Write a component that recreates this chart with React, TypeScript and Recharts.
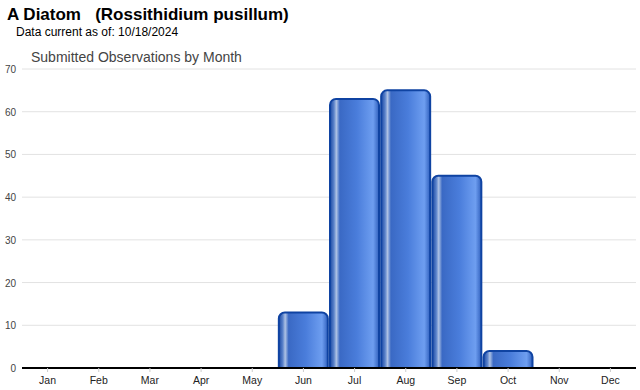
import React from 'react';
import { BarChart, Bar, XAxis, YAxis, CartesianGrid } from 'recharts';

const months = ['Jan', 'Feb', 'Mar', 'Apr', 'May', 'Jun', 'Jul', 'Aug', 'Sep', 'Oct', 'Nov', 'Dec'];
const observations = [0, 0, 0, 0, 0, 13, 63, 65, 45, 4, 0, 0];
const yTicks = [0, 10, 20, 30, 40, 50, 60, 70];

const chartData = months.map((month, i) => ({ month, count: observations[i] }));

const YTick = (props: any) => {
  const { x, y, payload } = props;
  return (
    <text x={x + 2} y={y} dy={4} textAnchor="end" fontSize={10} fill="#444" fontFamily="Arial, 'Liberation Sans', sans-serif">
      {payload.value}
    </text>
  );
};

export default function App() {
  return (
    <div style={{ position: 'fixed', left: 0, top: 0, width: 640, height: 390, background: '#fff', fontFamily: "Arial, 'Liberation Sans', sans-serif" }}>
      <div style={{ position: 'absolute', left: 7, top: 5, fontSize: 17, fontWeight: 'bold', color: '#000', whiteSpace: 'pre' }}>
        {'A Diatom   (Rossithidium pusillum)'}
      </div>
      <div style={{ position: 'absolute', left: 16, top: 25, fontSize: 12, color: '#000' }}>Data current as of: 10/18/2024</div>
      <div style={{ position: 'absolute', left: 31, top: 49, fontSize: 14, color: '#444' }}>Submitted Observations by Month</div>
      <div style={{ position: 'absolute', left: 0, top: 0 }}>
        <BarChart
          width={640}
          height={390}
          data={chartData}
          margin={{ top: 69, right: 4, left: 0, bottom: 0 }}
          barCategoryGap={1}
        >
          <defs>
            <linearGradient id="barShade" x1="0" y1="0" x2="1" y2="0">
              <stop offset="0%" stopColor="#1a48a3" />
              <stop offset="8%" stopColor="#5a82ca" />
              <stop offset="13%" stopColor="#aec2e4" />
              <stop offset="20%" stopColor="#3a69c4" />
              <stop offset="55%" stopColor="#4a7ddb" />
              <stop offset="88%" stopColor="#6e9ef0" />
              <stop offset="100%" stopColor="#3060bd" />
            </linearGradient>
          </defs>
          <CartesianGrid vertical={false} stroke="#e2e2e2" />
          <XAxis
            dataKey="month"
            height={22}
            interval={0}
            axisLine={{ stroke: '#000', strokeWidth: 2 }}
            tickLine={{ stroke: '#ccc' }}
            tickSize={4}
            tickMargin={5}
            tick={{ fontSize: 10.5, fill: '#222', fontFamily: "Arial, 'Liberation Sans', sans-serif" }}
          />
          <YAxis
            width={22}
            domain={[0, 70]}
            ticks={yTicks}
            axisLine={false}
            tickLine={false}
            tick={<YTick />}
          />
          <Bar
            dataKey="count"
            fill="url(#barShade)"
            stroke="#0f43a2"
            strokeWidth={2}
            radius={[6, 6, 0, 0]}
            isAnimationActive={false}
          />
        </BarChart>
      </div>
    </div>
  );
}
